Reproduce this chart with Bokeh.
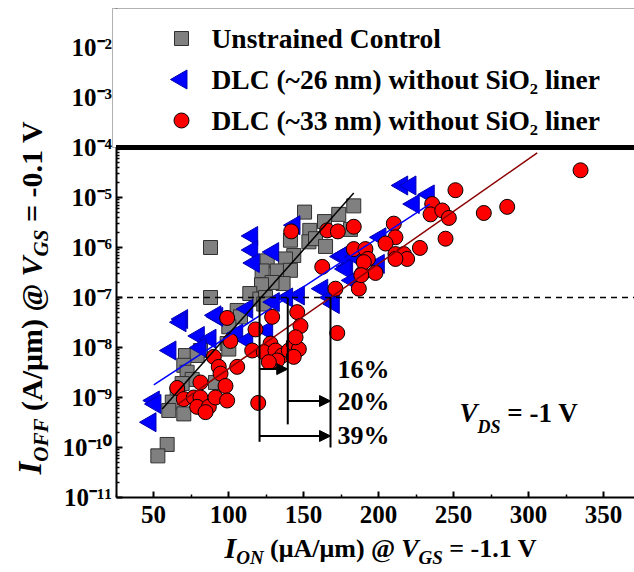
import numpy as np
from bokeh.plotting import figure
from bokeh.models import (Range1d, BoxAnnotation, Label, Arrow, NormalHead,
                          CustomJSTickFormatter, FixedTicker, ColumnDataSource)
from bokeh.embed import file_html
from bokeh.resources import INLINE
from bokeh.core.properties import value

FONT = "Liberation Serif"

# ---------------- data ----------------
ctrl_x = [88, 88, 150.7, 183.5, 173.5, 164, 154.2, 181.3, 141.3, 153.6, 158, 164.7, 143.5, 138,
          125.8, 122.4, 132.5, 141.3, 136.4, 129, 122, 114.2, 120.9, 124.7, 123.5, 105.8, 108,
          100.2, 99.1, 100.2, 81.3, 71.3, 79.1, 70.2, 72.4, 75.8, 91.3, 69.1, 65.8, 62.5, 60.2,
          70.2, 59.1, 52.9]
ctrl_y = [1.0e-6, 1.0e-7, 5.1e-6, 6.8e-6, 4.6e-6, 3.3e-6, 2.2e-6, 2.3e-6, 1.4e-6, 1.3e-6, 1.5e-6,
          1.05e-6, 6.9e-7, 5.9e-7, 5.4e-7, 3.4e-7, 3.4e-7, 3.5e-7, 1.9e-7, 2.0e-7, 1.8e-7, 1.2e-7,
          9.3e-8, 1.0e-7, 7.4e-8, 5.5e-8, 4.1e-8, 2.6e-8, 1.2e-8, 9.3e-9, 8.7e-9, 6.9e-9, 6.9e-9,
          4.4e-9, 3.2e-9, 2.3e-9, 2.0e-9, 1.9e-9, 1.2e-9, 8.1e-10, 5.5e-10, 4.7e-10, 1.15e-10, 6.8e-11]

d26_x = [115.8, 115.8, 129.8, 116.9, 144, 174.7, 179.1, 162.5, 168, 170.2, 146.9, 139.1, 130.2,
         112.5, 92.5, 69.1, 215.8, 221.3, 223.5, 233.5, 201.3, 175.8, 184.7, 178, 200.2, 182.5,
         68, 80.2, 91.3, 61.3, 88, 105.8, 112.5, 125.8, 50.2, 51.3, 48, 81.3]
d26_y = [1.7e-6, 8.9e-7, 8.1e-7, 4.9e-7, 2.8e-6, 6.6e-7, 4.1e-7, 1.5e-7, 1.0e-7, 7.4e-8, 1.1e-7,
         1.0e-7, 8.1e-8, 5.9e-8, 4.1e-8, 3.7e-8, 1.74e-5, 1.74e-5, 7.4e-6, 1.15e-5, 1.6e-6, 6.9e-7,
         6.5e-7, 3.7e-7, 4.7e-7, 2.2e-7, 3.2e-8, 1.7e-8, 4.4e-8, 8.7e-9, 1.5e-8, 1.9e-8, 1.4e-8,
         2.2e-8, 8.7e-10, 7.4e-10, 3.2e-10, 1.0e-8]

d33_x = [141.8, 165.8, 172.9, 183.5, 183.5, 162.5, 171.3, 186.9, 189.1, 145.8, 129.1, 99.1, 334.7,
         251.3, 270.2, 285.8, 235.8, 234.7, 242.5, 246.9, 244.7, 227.6, 210.2, 211.3, 204.7, 191.3,
         192.9, 190.2, 211.3, 216.9, 219.1, 211.3, 198, 188.5, 172.5, 118, 148, 101.3, 115.8, 128,
         123.5, 131.3, 135.8, 132.5, 126.9, 140.2, 143.5, 146.9, 143.5, 144.7, 90.2, 93.5, 94.7,
         98, 105.8, 81.3, 65.8, 70.2, 76.9, 81.3, 79.1, 86.9, 84.7, 91.3, 99.1, 119.8]
d33_y = [2.1e-6, 2.2e-6, 2.1e-6, 2.6e-6, 9.3e-7, 4.1e-7, 1.5e-7, 1.5e-7, 3.0e-7, 5.1e-8, 4.1e-8,
         3.9e-8, 3.5e-5, 1.4e-5, 4.9e-6, 6.5e-6, 7.4e-6, 4.6e-6, 5.5e-6, 3.9e-6, 1.5e-6, 9.8e-7,
         3.0e-6, 1.6e-6, 1.2e-6, 9.3e-7, 5.9e-7, 5.1e-7, 7.4e-7, 7.4e-7, 5.9e-7, 5.9e-7, 3.1e-7,
         2.8e-7, 1.95e-8, 2.3e-8, 2.7e-8, 1.35e-8, 8.7e-9, 1.2e-8, 8.1e-9, 8.7e-9, 6.9e-9, 5.5e-9,
         5.1e-9, 8.7e-9, 1.2e-8, 9.3e-9, 6.5e-9, 1.6e-8, 6.5e-9, 4.1e-9, 3.0e-9, 1.7e-9, 4.1e-9,
         2.0e-9, 1.55e-9, 9.3e-10, 1.0e-9, 1.0e-9, 6.5e-10, 6.5e-10, 5.1e-10, 1.0e-9, 8.7e-10, 7.8e-10]

fit_ctrl_x = [55.8, 183.5]
fit_ctrl_y = [5.9e-10, 1.23e-5]
fit_d26_x = [50.2, 234.2]
fit_d26_y = [1.78e-9, 7.4e-6]
fit_d33_x = [65.8, 305.8]
fit_d33_y = [7.2e-10, 7.8e-5]

ioff_ref = 1e-7          # dashed reference level
box_level = 1e-4         # legend box bottom

vline_x = [120.7, 139.5, 168.0]
vline_y0 = [1e-7, 1e-7, 1e-7]
vline_y1 = [1.3e-10, 2.9e-10, 1.0e-10]

arr_x0 = [120.7, 139.5, 120.7]
arr_x1 = [139.5, 168.0, 168.0]
arr_y = [3.7e-9, 8.5e-10, 1.7e-10]
pct_text = ["16%", "20%", "39%"]

x_ticks = [50, 100, 150, 200, 250, 300, 350]
x_minor = [25, 75, 125, 175, 225, 275, 325]
y_ticks = [1e-11, 1e-10, 1e-9, 1e-8, 1e-7, 1e-6, 1e-5, 1e-4, 1e-3, 1e-2]
y_minor = [m * t for t in y_ticks[:-1] for m in (2, 3, 4, 5, 6, 7, 8, 9)]

legend_labels = ["Unstrained Control", "DLC (~26 nm) without SiO\u2082 liner",
                 "DLC (~33 nm) without SiO\u2082 liner"]

# ---------------- layout helpers (pixel -> data) ----------------
W, H = 634, 572
X_AX, X_AX_PX, PPX = 25.0, 115.5, 1.5      # x=25 sits at px 115.5, 1.5 px per unit
Y_REF_PX, PPD = 147.0, 50.0                 # 1e-4 sits at py 147, 50 px per decade
def xd(px):
    return X_AX + (px - X_AX_PX) / PPX
def yd(py):
    return 10 ** (-4 - (py - Y_REF_PX) / PPD)

Y_BOT = 1e-11
Y_TOP = yd(8)
X_END = xd(W)

p = figure(width=W, height=H, y_axis_type="log",
           x_range=Range1d(xd(0), xd(W)), y_range=Range1d(yd(H), yd(0)),
           output_backend="svg", toolbar_location=None, min_border=0,
           min_border_left=0, min_border_right=0, min_border_top=0, min_border_bottom=0)
p.grid.visible = False
p.outline_line_color = None

p.xaxis.fixed_location = Y_BOT
p.yaxis.fixed_location = X_AX
p.xaxis.bounds = (X_AX, X_END)
p.yaxis.bounds = (Y_BOT, Y_TOP)

p.xaxis.ticker = FixedTicker(ticks=x_ticks, minor_ticks=x_minor)
p.yaxis.ticker = FixedTicker(ticks=y_ticks, minor_ticks=y_minor)
p.yaxis.formatter = CustomJSTickFormatter(code="""
const sup = {'-':'\u207b','0':'\u2070','1':'\u00b9','2':'\u00b2','3':'\u00b3','4':'\u2074',
             '5':'\u2075','6':'\u2076','7':'\u2077','8':'\u2078','9':'\u2079'};
const e = Math.round(Math.log10(tick));
return '10' + String(e).split('').map(c => sup[c]).join('');
""")

for ax in (p.xaxis[0], p.yaxis[0]):
    ax.axis_line_width = 2
    ax.axis_line_color = "black"
    ax.major_tick_in = 6
    ax.major_tick_out = 0
    ax.minor_tick_in = 3
    ax.minor_tick_out = 0
    ax.major_tick_line_width = 2
    ax.minor_tick_line_width = 1.5
    ax.major_label_text_font = FONT
    ax.major_label_text_font_style = "bold"
    ax.major_label_text_font_size = "25px"
    ax.major_label_text_color = "black"
p.xaxis.major_label_standoff = 8
p.yaxis.major_label_standoff = 4

# markers
MK = dict(square=dict(marker="square", size=14, fill_color="#808080", line_color="#303030", line_width=1),
          tri=dict(marker="triangle", angle=np.pi / 2, size=19, fill_color="#0000FF",
                   line_color="#0000B0", line_width=1),
          circ=dict(marker="circle", size=15, fill_color="#FF0000", line_color="black", line_width=1))
p.scatter(ctrl_x, ctrl_y, **MK["square"])
p.scatter(d26_x, d26_y, **MK["tri"])
p.scatter(d33_x, d33_y, **MK["circ"])

# fit lines
p.line(fit_ctrl_x, fit_ctrl_y, line_color="black", line_width=1.5)
p.line(fit_d26_x, fit_d26_y, line_color="#0000FF", line_width=1.5)
p.line(fit_d33_x, fit_d33_y, line_color="#8B0000", line_width=1.5)

# dashed reference line at 1e-7
p.segment(x0=[X_AX], y0=[ioff_ref], x1=[X_END], y1=[ioff_ref], line_color="black",
          line_width=1.5, line_dash="6 5")

# % annotation
p.segment(x0=vline_x, y0=vline_y0, x1=vline_x, y1=vline_y1, line_color="black", line_width=2)
asrc = ColumnDataSource(dict(x0=arr_x0, x1=arr_x1, y=arr_y))
p.add_layout(Arrow(source=asrc, x_start="x0", y_start="y", x_end="x1", y_end="y",
                   line_width=2, line_color="black",
                   end=NormalHead(size=11, fill_color="black", line_color="black")))
p.text(x=[xd(337)] * 3, y=arr_y, text=pct_text, text_font=value(FONT), text_font_style="bold",
       text_font_size="26px", text_baseline="middle", text_align="left", text_color="black")

# ---------------- composite (mixed style) texts ----------------
WB = {' ': .25, '(': .333, ')': .333, '/': .278, '@': .93, '=': .57, '-': .333, '.': .25,
      '0': .5, '1': .5, 'A': .722, 'V': .722, 'm': .833, '\u03bc': .556, 'D': .722, 'S': .556}
WBI = {'I': .389, 'O': .722, 'N': .722, 'F': .667, 'V': .667, 'G': .722, 'S': .556, 'D': .722,
       ' ': .25}
MID = 0.34   # distance baseline -> middle of text box, in em

def tw(txt, style, size):
    tbl = WBI if "italic" in style else WB
    return sum(tbl.get(c, .55) for c in txt) * size

def place_h(pieces, px, py):
    """py = baseline of the main text; dy = extra drop of subscript baselines"""
    for txt, size, style, dy in pieces:
        lead = len(txt) - len(txt.lstrip(' '))
        px += lead * .25 * size
        t = txt.strip(' ')
        p.add_layout(Label(x=xd(px), y=yd(py + dy - MID * size), text=t, text_font=FONT,
                           text_font_size=f"{size}px", text_font_style=style,
                           text_baseline="middle", text_align="left", text_color="black"))
        px += tw(t, style, size) + (len(txt) - lead - len(t)) * .25 * size

def place_v(pieces, px, py):
    """px = baseline (right side) of rotated text; dx = extra shift of subscripts"""
    for txt, size, style, dx in pieces:
        lead = len(txt) - len(txt.lstrip(' '))
        py -= lead * .25 * size
        t = txt.strip(' ')
        p.add_layout(Label(x=xd(px + dx - MID * size), y=yd(py), text=t, angle=np.pi / 2,
                           text_font=FONT, text_font_size=f"{size}px", text_font_style=style,
                           text_baseline="middle", text_align="left", text_color="black"))
        py -= tw(t, style, size) + (len(txt) - lead - len(t)) * .25 * size

# V_DS = -1 V
place_h([("V", 27, "bold italic", 0), ("DS", 18, "bold italic", 11),
         (" = -1 V", 27, "bold", 0)], 459, 422)
# x axis title
place_h([("I", 30, "bold italic", 0), ("ON", 19, "bold italic", 6),
         (" (\u03bcA/\u03bcm) @ ", 26, "bold", 0), ("V", 26, "bold italic", 0),
         ("GS", 19, "bold italic", 6), (" = -1.1 V", 26, "bold", 0)], 224, 557)
# y axis title
place_v([("I", 33, "bold italic", 0), ("OFF", 21, "bold italic", 7),
         (" (A/\u03bcm) @ ", 30, "bold", 0), ("V", 30, "bold italic", 0),
         ("GS", 21, "bold italic", 7), (" = -0.1 V", 30, "bold", 0)], 41, 474)

# ---------------- legend box ----------------
p.add_layout(BoxAnnotation(left=xd(112), bottom=box_level, top=Y_TOP, fill_color="white",
                           fill_alpha=1.0, line_color="black", line_width=1))
p.segment(x0=[X_AX], y0=[box_level], x1=[X_END], y1=[box_level], line_color="black",
          line_width=5, level="overlay")
leg_rows = [38, 79, 120]
for key, py, lab in zip(["square", "tri", "circ"], leg_rows, legend_labels):
    p.scatter([xd(181)], [yd(py)], level="overlay", **MK[key])
    p.text(x=[xd(211)], y=[yd(py)], text=[lab], text_font=value(FONT), text_font_style="bold",
           text_font_size="27.5px", text_baseline="middle", text_align="left", text_color="black",
           level="overlay")

open("out.html", "w").write(file_html(p, INLINE))
